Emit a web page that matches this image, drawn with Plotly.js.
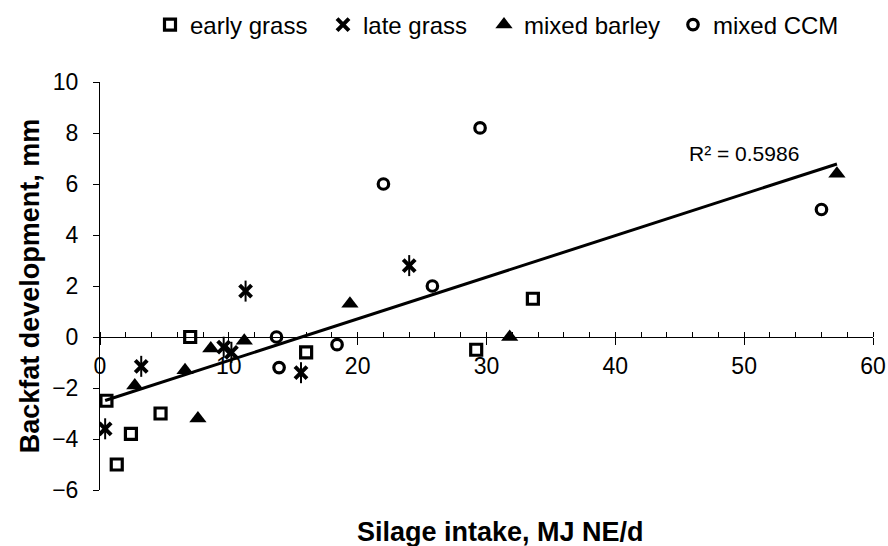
<!DOCTYPE html>
<html>
<head>
<meta charset="utf-8">
<script src="https://cdn.plot.ly/plotly-3.0.1.min.js"></script>
<style>html,body{margin:0;padding:0;background:#fff;}#chart{width:888px;height:546px;}</style>
</head>
<body>
<div id="chart"></div>
<script>
// Data
const earlyX = [0.5, 1.3, 2.4, 4.7, 7.0, 16.0, 29.2, 33.6];
const earlyY = [-2.5, -5.0, -3.8, -3.0, 0.0, -0.6, -0.5, 1.5];
const lateX = [0.4, 3.2, 9.6, 10.2, 11.3, 15.6, 24.0];
const lateY = [-3.6, -1.15, -0.4, -0.6, 1.8, -1.4, 2.8];
const barleyX = [2.7, 6.6, 7.6, 8.6, 11.2, 19.4, 31.8, 57.2];
const barleyY = [-1.9, -1.3, -3.2, -0.45, -0.15, 1.3, 0.0, 6.4];
const ccmX = [13.7, 13.9, 18.4, 22.0, 25.8, 29.5, 56.0];
const ccmY = [0.0, -1.2, -0.3, 6.0, 2.0, 8.2, 5.0];
const seriesNames = ["early grass", "late grass", "mixed barley", "mixed CCM"];
const r2Label = "R² = 0.5986";
const xTitle = "Silage intake, MJ NE/d";
const yTitle = "Backfat development, mm";

// Linear trendline over all points (least squares)
const allX = [].concat(earlyX, lateX, barleyX, ccmX);
const allY = [].concat(earlyY, lateY, barleyY, ccmY);
const n = allX.length;
const mx = allX.reduce((a, b) => a + b, 0) / n;
const my = allY.reduce((a, b) => a + b, 0) / n;
let sxy = 0, sxx = 0;
for (let i = 0; i < n; i++) { sxy += (allX[i] - mx) * (allY[i] - my); sxx += (allX[i] - mx) ** 2; }
const slope = sxy / sxx;
const intercept = my - slope * mx;
const xmin = Math.min(...allX), xmax = Math.max(...allX);
const trendX = [xmin, xmax];
const trendY = trendX.map(x => intercept + slope * x);

const FONT = "Liberation Sans, Arial, sans-serif";
const PLOT_L = 100, PLOT_W = 773, PLOT_B = 490, PLOT_H = 408;
const legendMarkerPx = [170, 343, 504, 693];
function legendAt(px) {
  return { orientation: "h", x: (px - 20 - PLOT_L) / PLOT_W, xanchor: "left", y: (PLOT_B - 25) / PLOT_H, yanchor: "middle",
    font: { family: FONT, size: 24, color: "#000" }, itemwidth: 30, bgcolor: "rgba(0,0,0,0)" };
}

const traces = [
  { type: "scatter", mode: "lines", x: trendX, y: trendY, showlegend: false, hoverinfo: "skip",
    line: { color: "#000", width: 3 } },
  { type: "scatter", mode: "markers", name: seriesNames[0], x: earlyX, y: earlyY, legend: "legend",
    marker: { symbol: "square-open", size: 11, color: "#000", line: { color: "#000", width: 3.2 } } },
  { type: "scatter", mode: "markers", name: seriesNames[1], x: lateX, y: lateY, legend: "legend2",
    marker: { symbol: "x-thin-open", size: 12, color: "#000", line: { color: "#000", width: 4 } } },
  { type: "scatter", mode: "markers", name: seriesNames[1], x: lateX, y: lateY, showlegend: false,
    marker: { symbol: "line-ns-open", size: 15, color: "#000", line: { color: "#000", width: 2 } } },
  { type: "scatter", mode: "markers", name: seriesNames[2], x: barleyX, y: barleyY, legend: "legend3",
    marker: { symbol: "triangle-up", size: 15, color: "#000", line: { width: 0 } } },
  { type: "scatter", mode: "markers", name: seriesNames[3], x: ccmX, y: ccmY, legend: "legend4",
    marker: { symbol: "circle-open", size: 10.5, color: "#000", line: { color: "#000", width: 3.2 } } }
];

const layout = {
  width: 888, height: 546,
  margin: { l: 100, r: 15, t: 82, b: 56, autoexpand: false },
  paper_bgcolor: "#fff", plot_bgcolor: "#fff",
  font: { family: FONT, color: "#000", size: 23 },
  showlegend: true,
  legend: legendAt(legendMarkerPx[0]),
  legend2: legendAt(legendMarkerPx[1]),
  legend3: legendAt(legendMarkerPx[2]),
  legend4: legendAt(legendMarkerPx[3]),
  xaxis: {
    range: [0, 60], dtick: 10, tick0: 0, anchor: "free", position: 0.375,
    showline: true, linecolor: "#000", linewidth: 1, showgrid: false, zeroline: false,
    ticks: "outside", ticklen: 7, tickcolor: "#000", tickwidth: 1,
    minor: { dtick: 2, ticks: "inside", ticklen: 5, tickcolor: "#000", tickwidth: 1, showgrid: false },
    tickfont: { family: FONT, size: 23, color: "#000" }, ticklabelstandoff: 1
  },
  yaxis: {
    range: [-6, 10], dtick: 2, tick0: 0,
    showline: true, linecolor: "#000", linewidth: 1, showgrid: false, zeroline: false,
    ticks: "outside", ticklen: 6, tickcolor: "#000", tickwidth: 1,
    tickfont: { family: FONT, size: 23, color: "#000" }, ticklabelstandoff: 10,
    title: { text: "<b>" + yTitle + "</b>", font: { family: FONT, size: 27, color: "#000" }, standoff: 4 }
  },
  annotations: [
    { text: r2Label, x: 50.0, y: 7.2, xref: "x", yref: "y", showarrow: false,
      font: { family: FONT, size: 21, color: "#000" } },
    { text: "<b>" + xTitle + "</b>", x: (500 - PLOT_L) / PLOT_W, y: -(532 - PLOT_B) / PLOT_H, xref: "paper", yref: "paper",
      xanchor: "center", yanchor: "middle", showarrow: false,
      font: { family: FONT, size: 27, color: "#000" } }
  ]
};

Plotly.newPlot("chart", traces, layout, { displayModeBar: false, staticPlot: true });
</script>
</body>
</html>
